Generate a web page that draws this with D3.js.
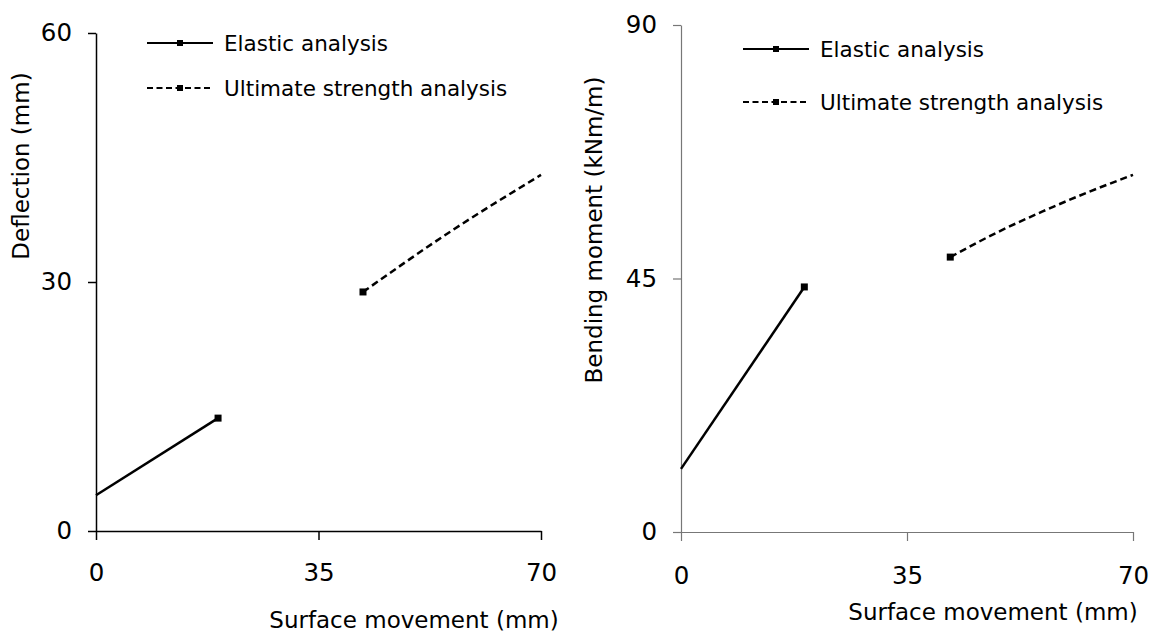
<!DOCTYPE html>
<html><head><meta charset="utf-8">
<script src="https://cdn.jsdelivr.net/npm/d3@7"></script>
<style>
html,body{margin:0;padding:0;background:#fff;}
text{font-family:"DejaVu Sans",sans-serif;fill:#000;}
</style></head>
<body>
<svg id="c" width="1150" height="633"></svg>
<script>
// ---- data ----
const xTicks = [0, 35, 70];
const yTicksLeft = [0, 30, 60];
const yTicksRight = [0, 45, 90];
const seriesNames = ["Elastic analysis", "Ultimate strength analysis"];

const elasticLeftX = [0, 19.2];
const elasticLeftY = [4.3, 13.6];
const ultimateLeftX = [42.0, 56.2, 70];
const ultimateLeftY = [28.8, 36.3, 42.9];

const elasticRightX = [0, 19.1];
const elasticRightY = [11.2, 43.5];
const ultimateRightX = [41.7, 49, 56, 63, 70];
const ultimateRightY = [48.8, 53.2, 56.9, 60.3, 63.4];

const svg = d3.select("#c");

function panel(cfg) {
  const x = d3.scaleLinear().domain([0, 70]).range([cfg.x0, cfg.x1]);
  const y = d3.scaleLinear().domain([0, cfg.ymax]).range([cfg.y0, cfg.y1]);
  const g = svg.append("g");

  const ax = g.append("g").attr("transform", `translate(0,${cfg.y0})`)
    .call(d3.axisBottom(x).tickValues(xTicks).tickSize(9).tickSizeOuter(0).tickPadding(cfg.xPad));
  const ay = g.append("g").attr("transform", `translate(${cfg.x0},0)`)
    .call(d3.axisLeft(y).tickValues(cfg.yTicks).tickSize(8).tickSizeOuter(0).tickPadding(16));
  [ax, ay].forEach(a => {
    a.attr("font-size", null).attr("font-family", null);
    a.selectAll("path,line").attr("stroke", cfg.axisColor).attr("stroke-width", cfg.axisWidth);
    a.selectAll("text").style("font-family", '"DejaVu Sans",sans-serif').style("font-size", "24.5px").attr("fill", "#000");
  });

  const line = d3.line().x(d => x(d[0])).y(d => y(d[1])).curve(d3.curveMonotoneX);
  const el = cfg.ex.map((v, i) => [v, cfg.ey[i]]);
  const ul = cfg.ux.map((v, i) => [v, cfg.uy[i]]);
  g.append("path").datum(el).attr("d", line).attr("fill", "none").attr("stroke", "#000").attr("stroke-width", 2.5);
  g.append("path").datum(ul).attr("d", line).attr("fill", "none").attr("stroke", "#000").attr("stroke-width", 2.5)
    .attr("stroke-dasharray", "7,4");
  const mk = [el[el.length - 1], ul[0]];
  g.selectAll("rect.m").data(mk).enter().append("rect")
    .attr("x", d => x(d[0]) - 3.5).attr("y", d => y(d[1]) - 3.5).attr("width", 7).attr("height", 7).attr("fill", "#000");

  // legend
  seriesNames.forEach((name, i) => {
    const ly = cfg.legY[i];
    g.append("line").attr("x1", cfg.legX).attr("x2", cfg.legX + 66).attr("y1", ly).attr("y2", ly)
      .attr("stroke", "#000").attr("stroke-width", 2).attr("stroke-dasharray", i === 1 ? "6,3.5" : null);
    g.append("rect").attr("x", cfg.legX + 30).attr("y", ly - 3).attr("width", 6).attr("height", 6).attr("fill", "#000");
    g.append("text").attr("x", cfg.legX + 77).attr("y", ly).attr("dy", "0.35em").style("font-size", "21.5px").text(name);
  });

  // titles
  g.append("text").attr("x", cfg.xtX).attr("y", cfg.xtY).attr("text-anchor", "middle")
    .style("font-size", "23px").text("Surface movement (mm)");
  g.append("text").attr("transform", `translate(${cfg.ytX},${cfg.ytY}) rotate(-90)`).attr("text-anchor", "middle")
    .attr("dy", "0.35em").style("font-size", "23px").text(cfg.yTitle);
}

panel({x0: 96, x1: 541, y0: 531, y1: 33, ymax: 60, yTicks: yTicksLeft, axisColor: "#000", axisWidth: 1.5, xPad: 23.5,
  ex: elasticLeftX, ey: elasticLeftY, ux: ultimateLeftX, uy: ultimateLeftY,
  legX: 147, legY: [43, 88], xtX: 414, xtY: 628, ytX: 21, ytY: 166, yTitle: "Deflection (mm)"});

panel({x0: 681, x1: 1133, y0: 532, y1: 25, ymax: 90, yTicks: yTicksRight, axisColor: "#777", axisWidth: 1.2, xPad: 25.5,
  ex: elasticRightX, ey: elasticRightY, ux: ultimateRightX, uy: ultimateRightY,
  legX: 743, legY: [49, 102], xtX: 993, xtY: 620, ytX: 594, ytY: 230, yTitle: "Bending moment (kNm/m)"});
</script>
</body></html>
